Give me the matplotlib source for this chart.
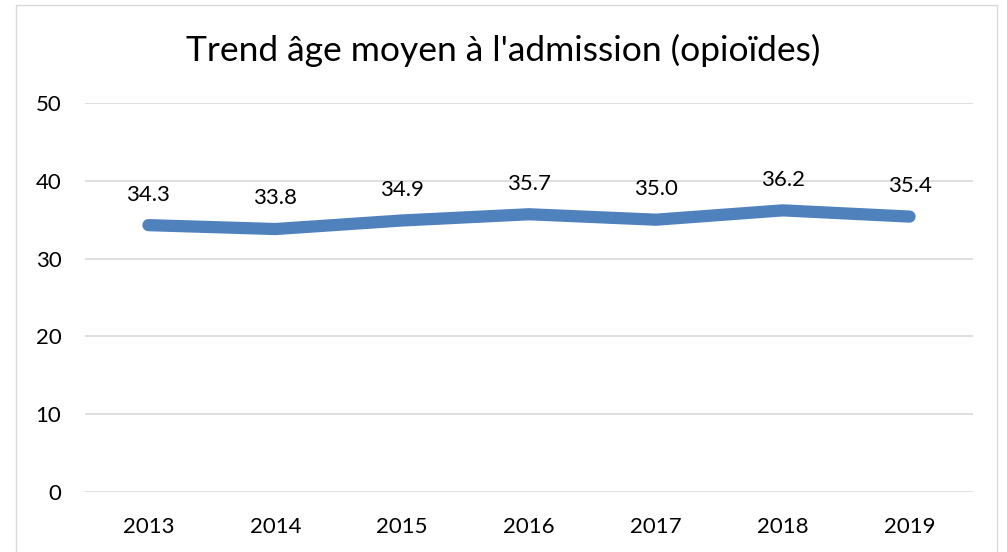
import matplotlib
matplotlib.use("Agg")
import matplotlib.pyplot as plt
from matplotlib.patches import Rectangle

years = ["2013", "2014", "2015", "2016", "2017", "2018", "2019"]
ages = [34.3, 33.8, 34.9, 35.7, 35.0, 36.2, 35.4]
yticks = [0, 10, 20, 30, 40, 50]
title = "Trend âge moyen à l'admission (opioïdes)"

plt.rcParams['font.family'] = ['Lato', 'DejaVu Sans']

W, H = 1007, 552
fig = plt.figure(figsize=(W / 100, H / 100), dpi=100)
fig.patch.set_facecolor("white")

# outer chart border
fig.add_artist(Rectangle((16 / W, -0.05), (997 - 16) / W, 1.05 - 5 / H,
                         transform=fig.transFigure, fill=False,
                         edgecolor="#d9d9d9", linewidth=1.0))

ax = fig.add_axes([85 / W, 1 - 492 / H, (973 - 85) / W, (492 - 103) / H])
x = list(range(len(years)))
ax.plot(x, ages, color="#4F81BD", linewidth=8.8, solid_capstyle="round",
        solid_joinstyle="miter")
for xi, v in zip(x, ages):
    ax.annotate(f"{v:.1f}", (xi, v), xytext=(0, 22), textcoords="offset points",
                ha="center", va="center", fontsize=16, color="black")

ax.set_xlim(-0.5, len(years) - 0.5)
ax.set_ylim(0, 50)
ax.set_yticks(yticks)
ax.set_yticklabels([str(t) for t in yticks], fontsize=16)
ax.set_xticks(x)
ax.set_xticklabels(years, fontsize=16)
ax.grid(axis="y", color="#d9d9d9", linewidth=1.2)
ax.set_axisbelow(True)
for s in ax.spines.values():
    s.set_visible(False)
ax.tick_params(axis="both", length=0)
ax.tick_params(axis="y", pad=17)
ax.tick_params(axis="x", pad=18)

fig.text(0.5, 1 - 50 / H, title, ha="center", va="center", fontsize=25.5)

fig.savefig("out.png", dpi=100)
